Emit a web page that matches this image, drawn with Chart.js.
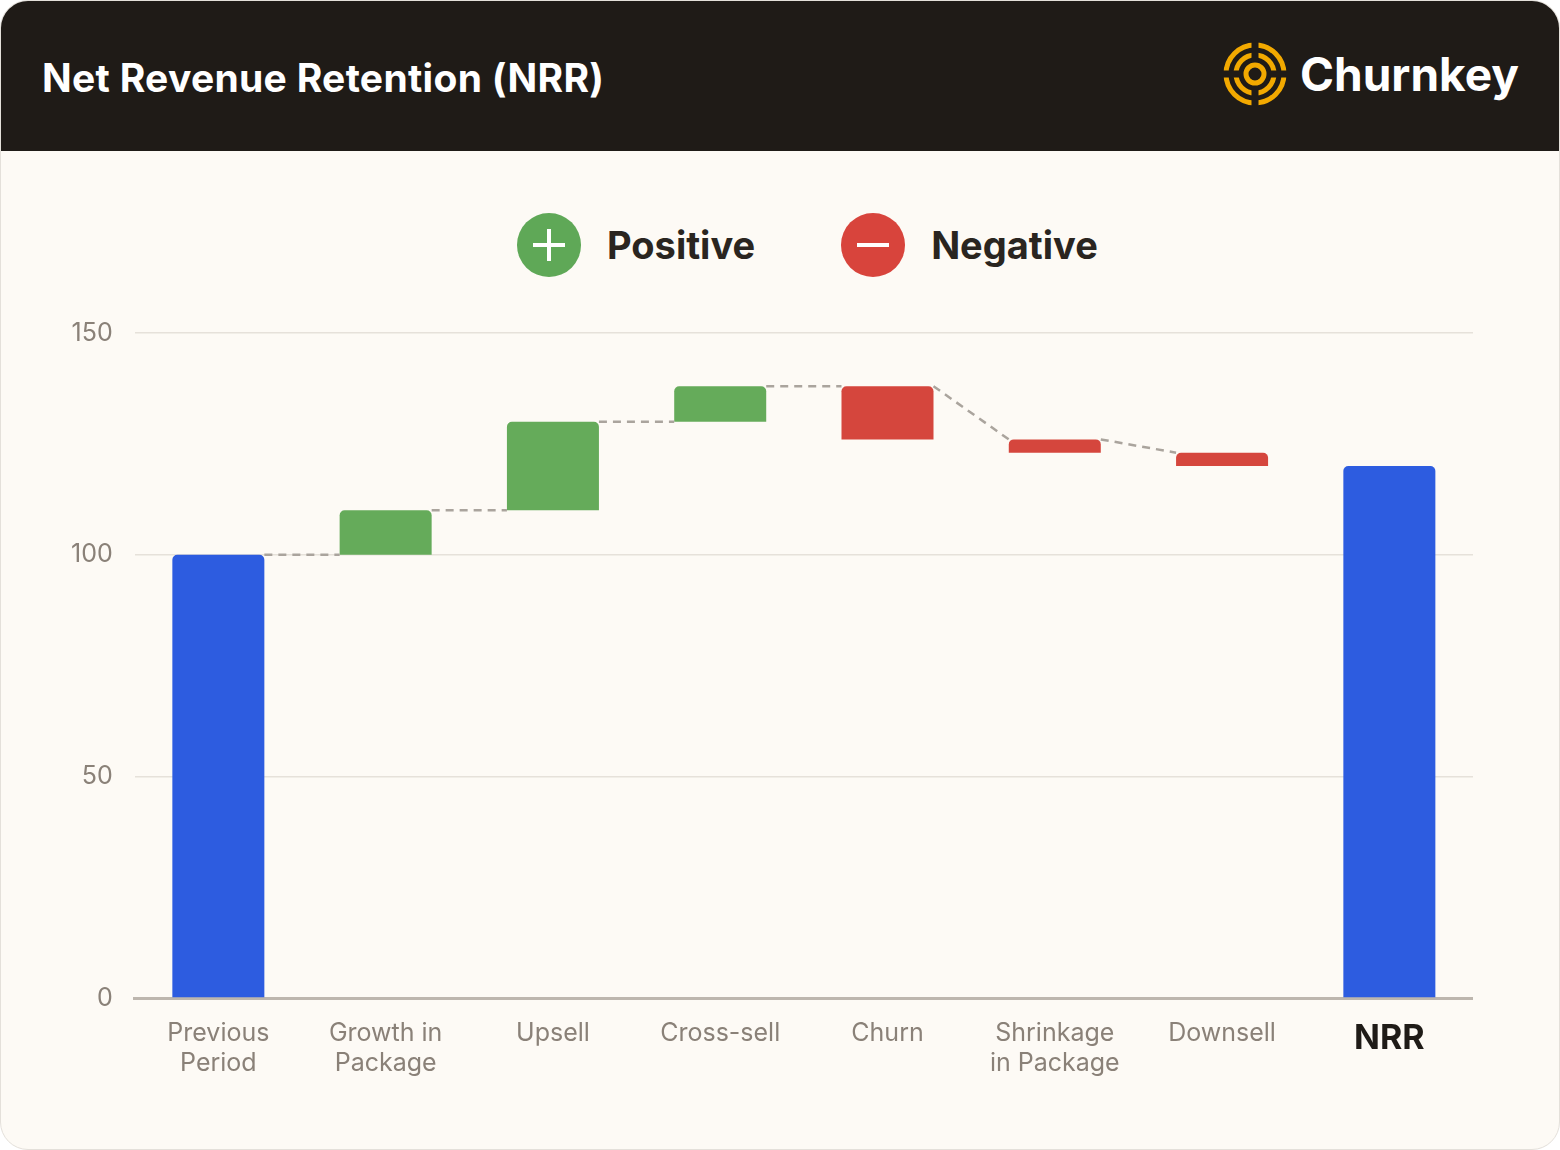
<!DOCTYPE html>
<html><head><meta charset="utf-8">
<script src="https://cdn.jsdelivr.net/npm/chart.js@4"></script>
<style>
body{margin:0;background:#fff;font-family:Inter,'Open Sans',sans-serif;}
#card{position:absolute;left:0;top:0;width:1558px;height:1148px;border:1px solid #e4e0da;border-radius:28px;background:#fdfaf5;overflow:hidden;}
#head{height:150px;background:#1f1b17;position:relative;}
#head h1{position:absolute;left:41px;top:53px;margin:0;color:#fff;font-size:39px;font-weight:700;letter-spacing:0.3px}
#logo{position:absolute;right:40px;top:40px;display:flex;align-items:center;color:#fff;font-size:46px;font-weight:700;}
#legend{position:absolute;top:212px;left:516px;display:flex;gap:86px;font-size:38px;font-weight:700;color:#2a2520;}
.li{display:flex;align-items:center;gap:26px}
.dot{width:64px;height:64px;border-radius:50%;position:relative}
#wrap{position:absolute;left:48px;top:295px;width:1424px;height:794px;}
</style></head><body>
<div id="card">
<div id="head"><h1>Net Revenue Retention (NRR)</h1>
<div id="logo"><svg width="66" height="66" viewBox="0 0 66 66" style="margin-right:12px"><g fill="none" stroke="#f2a900" stroke-width="5"><circle cx="33" cy="33" r="29"/><circle cx="33" cy="33" r="19"/><circle cx="33" cy="33" r="9"/></g><g stroke="#1f1b17" stroke-width="7"><line x1="33" y1="0" x2="33" y2="20"/><line x1="33" y1="46" x2="33" y2="66"/><line x1="0" y1="33" x2="18" y2="33"/><line x1="48" y1="33" x2="66" y2="33"/></g></svg>Churnkey</div></div>
<div id="legend">
<div class="li"><div class="dot" style="background:#5fa857"><svg width="64" height="64"><path d="M32 16v32M16 32h32" stroke="#fff" stroke-width="4"/></svg></div>Positive</div>
<div class="li"><div class="dot" style="background:#d8443c"><svg width="64" height="64"><path d="M16 32h32" stroke="#fff" stroke-width="4"/></svg></div>Negative</div>
</div>
<div id="wrap"><canvas id="c"></canvas></div>
</div>
<script>
const COLORS = { total: '#2d5ce0', pos: '#65ab5a', neg: '#d5463d', grid: '#e6e1da', text: '#8a8178' };
const steps = [
  { label: ['Previous', 'Period'], v: [0, 100], kind: 'total' },
  { label: ['Growth in', 'Package'], v: [100, 110], kind: 'pos' },
  { label: 'Upsell', v: [110, 130], kind: 'pos' },
  { label: 'Cross-sell', v: [130, 138], kind: 'pos' },
  { label: 'Churn', v: [138, 126], kind: 'neg' },
  { label: ['Shrinkage', 'in Package'], v: [126, 123], kind: 'neg' },
  { label: 'Downsell', v: [123, 120], kind: 'neg' },
  { label: 'NRR', v: [0, 120], kind: 'total' },
];

// dashed link: top of one bar to where the next one starts
const connectors = {
  id: 'connectors',
  afterDatasetsDraw(chart) {
    const meta = chart.getDatasetMeta(0), y = chart.scales.y, ctx = chart.ctx;
    ctx.save();
    ctx.strokeStyle = '#aaa49d'; ctx.lineWidth = 2.5; ctx.setLineDash([8, 6]);
    for (let i = 0; i < steps.length - 2; i++) {
      const a = meta.data[i], b = meta.data[i + 1];
      ctx.beginPath();
      ctx.moveTo(a.x + a.width / 2, y.getPixelForValue(Math.max(...steps[i].v)));
      ctx.lineTo(b.x - b.width / 2, y.getPixelForValue(steps[i + 1].v[0]));
      ctx.stroke();
    }
    ctx.restore();
  }
};

new Chart('c', {
  type: 'bar',
  data: {
    labels: steps.map(s => s.label),
    datasets: [{ data: steps.map(s => s.v), backgroundColor: steps.map(s => COLORS[s.kind]),
      borderRadius: { topLeft: 5, topRight: 5 }, borderSkipped: false, barPercentage: 0.55, categoryPercentage: 1 }]
  },
  options: {
    responsive: true, maintainAspectRatio: false, animation: false,
    plugins: { legend: { display: false }, tooltip: { enabled: false } },
    scales: {
      x: { grid: { display: false }, border: { color: '#bdb6ae', width: 3 },
        ticks: { padding: 12, color: c => c.index === 7 ? '#1f1b17' : COLORS.text,
          font: c => c.index === 7 ? { size: 34, weight: 'bold', family: 'Inter' } : { size: 25, family: 'Inter' } } },
      y: { min: 0, max: 150, grid: { color: COLORS.grid, lineWidth: 1.5, drawTicks: false }, border: { display: false },
        ticks: { stepSize: 50, padding: 22, color: COLORS.text, font: { size: 25, family: 'Inter' } } }
    }
  },
  plugins: [connectors]
});
</script>
</body></html>
